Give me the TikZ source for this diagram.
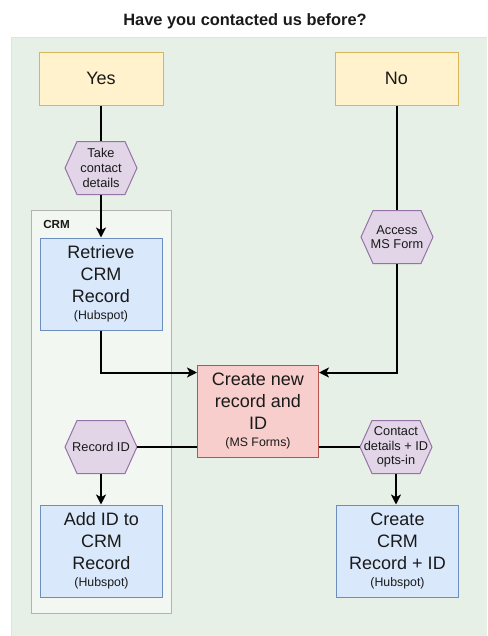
\documentclass[tikz,border=0pt]{standalone}
\usepackage{fontspec}
\setmainfont{Liberation Sans}
\usetikzlibrary{calc,arrows.meta}
\definecolor{bggreen}{HTML}{E7F0E6}
\definecolor{bgline}{HTML}{D9E8D7}
\definecolor{crmfill}{HTML}{F3F7F2}
\definecolor{crmline}{HTML}{B3B3B3}
\definecolor{yelfill}{HTML}{FFF2CC}
\definecolor{yelline}{HTML}{D6B656}
\definecolor{bluefill}{HTML}{DAE8FC}
\definecolor{blueline}{HTML}{6C8EBF}
\definecolor{redfill}{HTML}{F8CECC}
\definecolor{redline}{HTML}{B85450}
\definecolor{purfill}{HTML}{E1D5E7}
\definecolor{purline}{HTML}{9673A6}
\definecolor{txt}{HTML}{1A1A1A}
\tikzset{
  bigtext/.style={font=\fontsize{13.5}{16.5}\selectfont, text=txt, align=center, inner sep=0pt},
  yesbox/.style={bigtext, draw=yelline, fill=yelfill, line width=0.75pt, minimum width=93pt, minimum height=39.75pt},
  bluebox/.style={bigtext, draw=blueline, fill=bluefill, line width=0.75pt, minimum width=92pt, minimum height=69pt},
  redbox/.style={bigtext, draw=redline, fill=redfill, line width=0.75pt, minimum width=90.75pt, minimum height=69pt},
  hexshape/.style={draw=purline, fill=purfill, line width=0.75pt},
  hexlabel/.style={font=\fontsize{9.6}{11}\selectfont, text=txt, align=center, inner sep=0pt, minimum width=54pt, minimum height=39.75pt},
  conn/.style={line width=1.5pt, black},
  arr/.style={conn, -{Stealth[length=7.5pt, width=7.5pt, inset=2pt]}},
}
\newcommand\hexat[4]{%
  \filldraw[hexshape] ({#2-36},{#3}) -- ({#2-24},{#3-26.5}) -- ({#2+24},{#3-26.5}) -- ({#2+36},{#3}) -- ({#2+24},{#3+26.5}) -- ({#2-24},{#3+26.5}) -- cycle;
  \node[hexlabel] (#1) at (#2,#3) {#4};
}
\newcommand\hub[1]{\\[-4pt]{\fontsize{9.25}{11}\selectfont #1}}
\begin{document}
\begin{tikzpicture}[x=0.75pt,y=-0.75pt]
\useasboundingbox (0,0) rectangle (487,636);
\fill[bggreen] (11,37) rectangle (487,636);
\draw[bgline, line width=0.75pt] (11,636) -- (11,37) -- (487,37);
\node[font=\bfseries\fontsize{12.3}{14}\selectfont, text=txt] (title) at (245,21) {Have you contacted us before?};
% CRM container
\node[draw=crmline, fill=crmfill, line width=0.75pt, minimum width=105pt, minimum height=302.25pt, inner sep=0pt] (crm) at (101,411.5) {};
\node[anchor=west, font=\bfseries\fontsize{8.75}{10}\selectfont, text=txt, inner sep=0pt] (crmlabel) at (43,224) {CRM};
% boxes
\node[yesbox] (yes) at (101,78.5) {Yes};
\node[yesbox, minimum width=92.25pt] (no) at (396.5,78.5) {No};
\node[bluebox, minimum width=91.5pt] (ret) at (101,284) {Retrieve\\CRM\\Record\hub{(Hubspot)}};
\node[redbox] (create) at (258,411) {Create new\\record and\\ID\hub{(MS Forms)}};
\node[bluebox] (add) at (101.5,551) {Add ID to\\CRM\\Record\hub{(Hubspot)}};
\node[bluebox] (crt) at (397.5,551) {Create\\CRM\\Record + ID\hub{(Hubspot)}};
% hexagons
\hexat{take}{101}{168}{Take\\contact\\details}
\hexat{access}{397}{237}{Access\\MS Form}
\hexat{rid}{101}{447}{Record ID}
\hexat{contact}{396}{447}{Contact\\details + ID\\opts-in}
% connectors
\draw[conn] (yes.south) -- (take.north);
\draw[arr] (take.south) -- (ret.north);
\coordinate (inL) at ($(create.north west)+(0,8)$);
\coordinate (inR) at ($(create.north east)+(0,8)$);
\draw[arr] (ret.south) |- (inL);
\draw[conn] (no.south -| access.north) -- (access.north);
\draw[arr] (access.south) |- (inR);
\draw[conn] (rid.east -| create.west) -- (rid.east);
\draw[arr] (rid.south) -- (rid.south |- add.north);
\draw[conn] (contact.west -| create.east) -- (contact.west);
\draw[arr] (contact.south) -- (contact.south |- crt.north);
\end{tikzpicture}
\end{document}
